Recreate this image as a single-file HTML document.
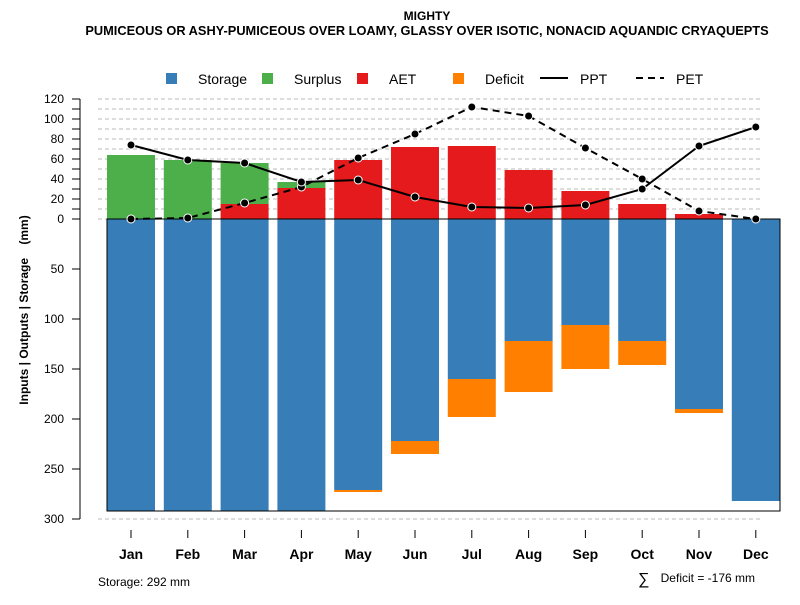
<!DOCTYPE html>
<html><head><meta charset="utf-8"><style>
body{margin:0;background:#fff;font-family:"Liberation Sans",sans-serif}
svg text{font-family:"Liberation Sans",sans-serif}
</style></head><body>
<svg id="c" width="800" height="600" xmlns="http://www.w3.org/2000/svg">
<text x="427" y="20" text-anchor="middle" font-size="12" font-weight="bold">MIGHTY</text>
<text x="427" y="35" text-anchor="middle" font-size="12.8" font-weight="bold">PUMICEOUS OR ASHY-PUMICEOUS OVER LOAMY, GLASSY OVER ISOTIC, NONACID AQUANDIC CRYAQUEPTS</text>
<g font-size="14">
<rect x="166" y="73" width="11" height="11" fill="#377eb8"/><text x="198" y="84">Storage</text>
<rect x="262" y="73" width="11" height="11" fill="#4daf4a"/><text x="294" y="84">Surplus</text>
<rect x="357" y="73" width="11" height="11" fill="#e41a1c"/><text x="389" y="84">AET</text>
<rect x="453" y="73" width="11" height="11" fill="#ff7f00"/><text x="485" y="84">Deficit</text>
<line x1="540" y1="78" x2="568" y2="78" stroke="#000" stroke-width="2"/><text x="580" y="84">PPT</text>
<line x1="636" y1="78" x2="664" y2="78" stroke="#000" stroke-width="2" stroke-dasharray="7,5"/><text x="676" y="84">PET</text>
</g>
<text transform="translate(28,310) rotate(-90)" text-anchor="middle" font-size="12" font-weight="bold" xml:space="preserve">Inputs | Outputs | Storage    (mm)</text>
<text x="98" y="586" font-size="12">Storage: 292 mm</text>
<text x="638" y="584" font-size="16">∑</text>
<text x="755" y="582" text-anchor="end" font-size="12">Deficit = -176 mm</text>
<g id="grid"></g><g id="bars"></g><g id="axes"></g><g id="lines"></g>
</svg>
<script>
const months=["Jan","Feb","Mar","Apr","May","Jun","Jul","Aug","Sep","Oct","Nov","Dec"];
const storage=[292,292,292,292,271,222,160,122,106,122,190,282];
const deficit=[0,0,0,0,2,13,38,51,44,24,4,0];
const aet=[0,0,15,31,59,72,73,49,28,15,5,0];
const surplus=[64,59,41,6,0,0,0,0,0,0,0,0];
const ppt=[74,59,56,37,39,22,12,11,14,30,73,92];
const pet=[0,1,16,32,61,85,112,103,71,40,8,0];
const posTicks=[0,10,20,30,40,50,60,70,80,90,100,110,120];
const posLabels=[0,20,40,60,80,100,120];
const negTicks=[50,100,150,200,250,300];
const NS="http://www.w3.org/2000/svg";
const y0=219;
const yPos=v=>y0-v;
const yNeg=v=>y0+v;
const xC=i=>131+i*56.8;
const bw=48;
function mk(tag,attrs,parent,txt){const e=document.createElementNS(NS,tag);for(const k in attrs)e.setAttribute(k,attrs[k]);if(txt!==undefined)e.textContent=txt;parent.appendChild(e);return e;}
const grid=document.getElementById('grid'),bars=document.getElementById('bars'),axes=document.getElementById('axes'),lines=document.getElementById('lines');
posTicks.forEach(v=>{const l=mk('line',{x1:98,x2:760,y1:yPos(v),y2:yPos(v),stroke:'#bbb','stroke-dasharray':'4,3'},grid);

});
const gl=mk('line',{x1:98,x2:760,y1:yNeg(300),y2:yNeg(300),stroke:'#bbb','stroke-dasharray':'4,3'},grid);


months.forEach((m,i)=>{
  const x=xC(i)-bw/2;
  const s=mk('rect',{x:x,y:y0,width:bw,height:storage[i],fill:'#377eb8'},bars);
  
  
  if(deficit[i]>0){const d=mk('rect',{x:x,y:yNeg(storage[i]),width:bw,height:deficit[i],fill:'#ff7f00'},bars);
  
  }
  if(aet[i]>0){const a=mk('rect',{x:x,y:yPos(aet[i]),width:bw,height:aet[i],fill:'#e41a1c'},bars);
  
  }
  if(surplus[i]>0){const u=mk('rect',{x:x,y:yPos(aet[i]+surplus[i]),width:bw,height:surplus[i],fill:'#4daf4a'},bars);
  
  }
  const t=mk('line',{x1:xC(i),x2:xC(i),y1:530,y2:538,stroke:'#000'},axes);
  
  
  const lb=mk('text',{x:xC(i),y:559,'text-anchor':'middle','font-size':14,'font-weight':'bold'},axes,m);
  
  
});
const box=mk('path',{d:`M107,${y0} L780,${y0} L780,${yNeg(292)} L107,${yNeg(292)} Z`,fill:'none',stroke:'#000'},axes);


const ax=mk('line',{x1:80,x2:80,y1:yPos(120),y2:yNeg(300),stroke:'#000'},axes);


posTicks.forEach(v=>{const t=mk('line',{x1:72,x2:80,y1:yPos(v),y2:yPos(v),stroke:'#000'},axes);

});
posLabels.forEach(v=>{const t=mk('text',{x:64,y:yPos(v)+4,'text-anchor':'end','font-size':12},axes,v);

});
negTicks.forEach(v=>{const t=mk('line',{x1:72,x2:80,y1:yNeg(v),y2:yNeg(v),stroke:'#000'},axes);


const l=mk('text',{x:64,y:yNeg(v)+4,'text-anchor':'end','font-size':12},axes,v);

});
function series(vals,dash,name){
  const p=mk('polyline',{points:vals.map((v,i)=>xC(i)+','+yPos(v)).join(' '),fill:'none',stroke:'#000','stroke-width':2,'stroke-dasharray':dash},lines);
  
  
  vals.forEach((v,i)=>{const c=mk('circle',{cx:xC(i),cy:yPos(v),r:4,fill:'#000',stroke:'#fff','stroke-width':1},lines);
  
  });
}
series(pet,'7,5','pet');
series(ppt,'none','ppt');
</script>
</body></html>
